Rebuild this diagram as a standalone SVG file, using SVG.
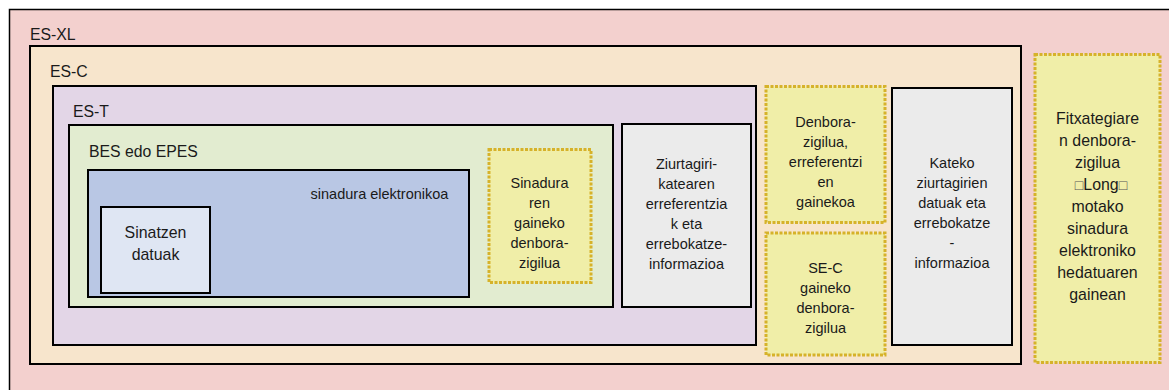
<svg xmlns="http://www.w3.org/2000/svg" width="1169" height="390" viewBox="0 0 1169 390">
<style>
text{font-family:"Liberation Sans",Arial,sans-serif;font-size:14.5px;fill:#1a1a1a}
.c{text-anchor:middle}
.lbl{font-size:15.8px}
.big{font-size:15.9px}
.box{stroke:#000;stroke-width:2}
.ts{fill:#f0eea8;stroke:#d6b22a;stroke-width:3;stroke-dasharray:3 1.5}
.tofu{font-size:14px;fill:#555}
</style>
<rect width="1169" height="390" fill="#ffffff"/>
<g id="es-xl">
<rect x="9.5" y="9.5" width="1170" height="390" fill="#f3d0ce" stroke="#000" stroke-width="1.5"/>
<text class="lbl" x="30" y="40">ES-XL</text>
</g>
<g id="es-c">
<rect x="30" y="46" width="991" height="318" fill="#f7e5cc" class="box"/>
<text class="lbl" x="50" y="77">ES-C</text>
</g>
<g id="es-t">
<rect x="53" y="86" width="703" height="259" fill="#e3d6e7" class="box"/>
<text class="lbl" x="73" y="117">ES-T</text>
</g>
<g id="bes">
<rect x="69" y="125" width="544" height="182" fill="#e2ecd0" class="box"/>
<text class="lbl" x="89" y="157">BES edo EPES</text>
</g>
<g id="sinadura">
<rect x="88" y="170" width="381" height="127" fill="#b9c7e4" class="box"/>
<text x="379.5" y="199" class="c">sinadura elektronikoa</text>
</g>
<g id="sinatzen">
<rect x="101" y="207" width="109" height="86" fill="#dfe6f3" class="box"/>
<text x="155.5" y="238" class="c big">Sinatzen</text>
<text x="155.5" y="260" class="c big">datuak</text>
</g>
<g id="sig-ts">
<rect x="489" y="149.5" width="102" height="133" class="ts"/>
<text class="c" x="539.5" y="188">Sinadura</text>
<text class="c" x="539.5" y="208">ren</text>
<text class="c" x="539.5" y="228">gaineko</text>
<text class="c" x="539.5" y="248">denbora-</text>
<text class="c" x="539.5" y="268">zigilua</text>
</g>
<g id="cert-refs">
<rect x="622" y="124" width="129" height="183" fill="#ebebeb" class="box"/>
<text class="c" x="686.5" y="169">Ziurtagiri-</text>
<text class="c" x="686.5" y="189">katearen</text>
<text class="c" x="686.5" y="209">erreferentzia</text>
<text class="c" x="686.5" y="229">k eta</text>
<text class="c" x="686.5" y="249">errebokatze-</text>
<text class="c" x="686.5" y="269">informazioa</text>
</g>
<g id="refs-ts">
<rect x="766" y="86.5" width="119" height="136" class="ts"/>
<text class="c" x="825.5" y="127">Denbora-</text>
<text class="c" x="825.5" y="147">zigilua,</text>
<text class="c" x="825.5" y="167">erreferentzi</text>
<text class="c" x="825.5" y="187">en</text>
<text class="c" x="825.5" y="207">gainekoa</text>
</g>
<g id="sec-ts">
<rect x="766" y="233" width="119" height="122" class="ts"/>
<text class="c" x="825.5" y="273">SE-C</text>
<text class="c" x="825.5" y="293">gaineko</text>
<text class="c" x="825.5" y="313">denbora-</text>
<text class="c" x="825.5" y="333">zigilua</text>
</g>
<g id="chain-data">
<rect x="892" y="88" width="120" height="257" fill="#ebebeb" class="box"/>
<text class="c" x="952" y="168">Kateko</text>
<text class="c" x="952" y="188">ziurtagirien</text>
<text class="c" x="952" y="208">datuak eta</text>
<text class="c" x="952" y="228">errebokatze</text>
<text class="c" x="952" y="248">-</text>
<text class="c" x="952" y="268">informazioa</text>
</g>
<g id="archive-ts">
<rect x="1035" y="54.5" width="125" height="308" class="ts"/>
<text class="c big" x="1097.5" y="124">Fitxategiare</text>
<text class="c big" x="1097.5" y="146">n denbora-</text>
<text class="c big" x="1097.5" y="168">zigilua</text>
<text class="c big" x="1101" y="190"><tspan class="tofu">□</tspan>Long<tspan class="tofu">□</tspan></text>
<text class="c big" x="1097.5" y="212">motako</text>
<text class="c big" x="1097.5" y="234">sinadura</text>
<text class="c big" x="1097.5" y="256">elektroniko</text>
<text class="c big" x="1097.5" y="278">hedatuaren</text>
<text class="c big" x="1097.5" y="300">gainean</text>
</g>
<g id="connectors"></g>
</svg>
